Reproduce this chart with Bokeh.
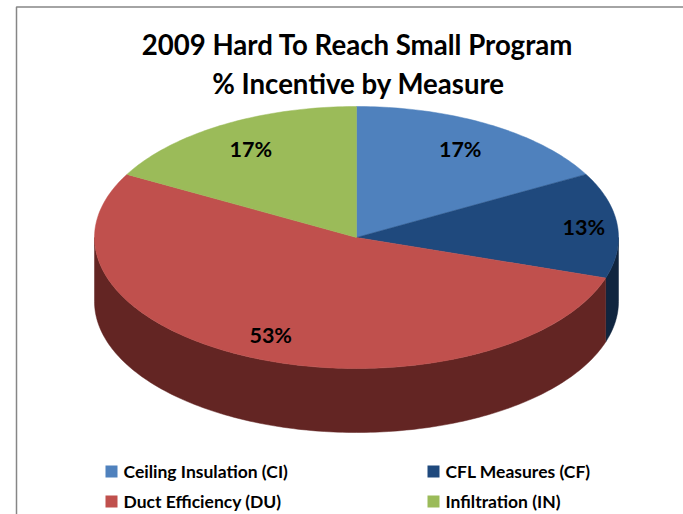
import math
from bokeh.plotting import figure
from bokeh.models import Range1d
from bokeh.core.properties import value
from bokeh.embed import file_html
from bokeh.resources import INLINE

title_lines = ["2009 Hard To Reach Small Program", "% Incentive by Measure"]
categories = ["Ceiling Insulation (CI)", "CFL Measures (CF)", "Duct Efficiency (DU)", "Infiltration (IN)"]
values = [17, 13, 53, 17]
top_colors = ["#4F81BD", "#1F497D", "#C0504D", "#9BBB59"]
side_colors = ["#2A4565", "#10253F", "#632523", "#4F6130"]
label_radii = [0.785, 0.875, 0.815, 0.785]

CX, CY, RX, RY, DEPTH = 356, 237, 262, 131, 64
FONT = value("Lato")


def pt(deg, r=1.0, dy=0.0):
    a = math.radians(deg)
    return CX + RX * r * math.sin(a), CY - RY * r * math.cos(a) + dy


p = figure(width=683, height=514, output_backend="svg", toolbar_location=None,
           x_range=Range1d(0, 683), y_range=Range1d(514, 0), min_border=0,
           outline_line_color=None, background_fill_color="white")
p.axis.visible = False
p.grid.visible = False

# chart-area frame
p.line([16, 16, 683], [514, 6.5, 6.5], line_color="#868686", line_width=1.5)

total = sum(values)
start = 0.0
spans = []
for v in values:
    spans.append((start, start + 360.0 * v / total))
    start += 360.0 * v / total

# side wall: only the front half of the rim (90-270 deg) is visible
for (a0, a1), c in zip(spans, side_colors):
    lo, hi = max(a0, 90), min(a1, 270)
    if lo >= hi:
        continue
    n = max(int(hi - lo), 2)
    angs = [lo + (hi - lo) * i / n for i in range(n + 1)]
    up = [pt(a) for a in angs]
    dn = [pt(a, dy=DEPTH) for a in reversed(angs)]
    poly = up + dn
    p.patch([q[0] for q in poly], [q[1] for q in poly], fill_color=c, line_color=c, line_width=0.5)

# top face
for (a0, a1), c in zip(spans, top_colors):
    n = max(int(a1 - a0), 2)
    poly = [(CX, CY)] + [pt(a0 + (a1 - a0) * i / n) for i in range(n + 1)]
    p.patch([q[0] for q in poly], [q[1] for q in poly], fill_color=c, line_color=c, line_width=0.5)

# percentage labels
for (a0, a1), v, r in zip(spans, values, label_radii):
    x, y = pt((a0 + a1) / 2, r)
    p.text([x - 1], [y], text=[f"{v}%"], text_font=FONT, text_font_style="bold",
           text_font_size="21.5px", text_color="black", text_align="center", text_baseline="middle")

# title
p.text([357, 358], [44, 83], text=title_lines, text_font=FONT, text_font_style="bold",
       text_font_size="27.6px", text_color="black", text_align="center", text_baseline="middle")

# legend
leg_x = [105, 427, 105, 427]
leg_y = [471, 471, 501, 501]
for x, y, c, t in zip(leg_x, leg_y, top_colors, categories):
    p.scatter([x + 6], [y], marker="square", size=12, fill_color=c, line_color=None)
    p.text([x + 18], [y], text=[t], text_font=FONT, text_font_style="bold", text_font_size="17.5px",
           text_color="black", text_align="left", text_baseline="middle")

open("out.html", "w").write(file_html(p, INLINE))
